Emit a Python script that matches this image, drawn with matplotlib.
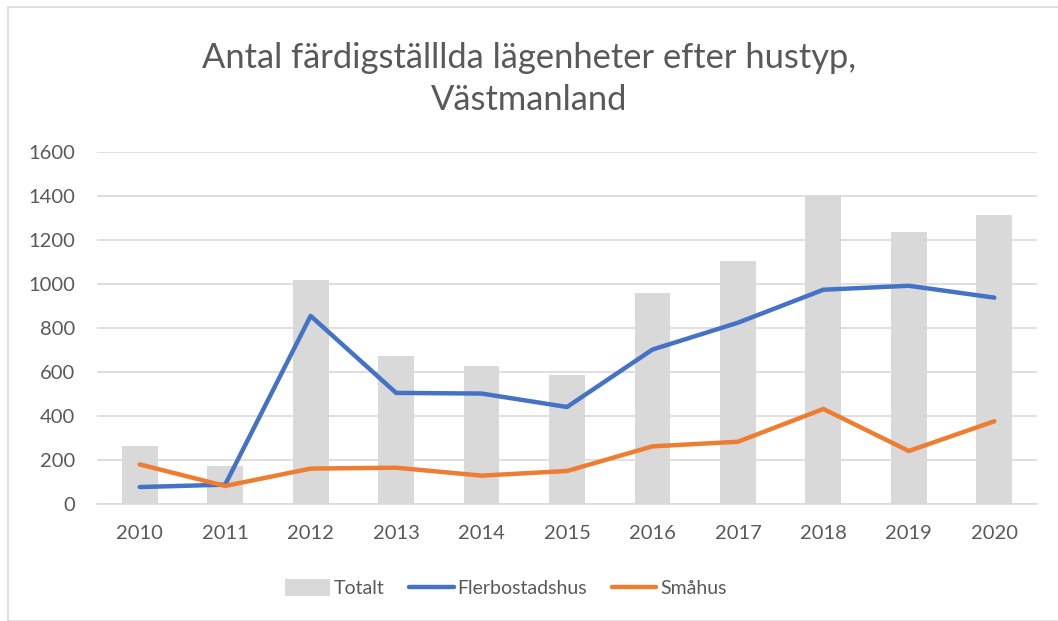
import matplotlib
matplotlib.use("Agg")
import matplotlib.pyplot as plt
from matplotlib.patches import Rectangle
from matplotlib.lines import Line2D
from matplotlib.patches import Patch
import numpy as np

years = ["2010", "2011", "2012", "2013", "2014", "2015", "2016", "2017", "2018", "2019", "2020"]
totalt = [262, 171, 1017, 671, 629, 585, 961, 1106, 1406, 1236, 1315]
flerbostadshus = [77, 88, 855, 505, 502, 441, 702, 824, 974, 992, 938]
smahus = [180, 82, 161, 165, 129, 150, 262, 283, 432, 241, 376]
yticks = [0, 200, 400, 600, 800, 1000, 1200, 1400, 1600]

title = "Antal färdigställlda lägenheter efter hustyp,\nVästmanland"

plt.rcParams['font.family'] = ['Lato', 'DejaVu Sans']
W, H = 1058, 621
fig = plt.figure(figsize=(W / 100, H / 100), dpi=100)
text_color = "#595959"

# outer chart border
fig.patches.append(Rectangle((8 / W, 0), 1.2, (H - 7) / H, transform=fig.transFigure,
                             fill=False, edgecolor="#d9d9d9", lw=1.2))

ax = fig.add_axes([97 / W, (H - 504) / H, (1037 - 97) / W, (504 - 152) / H])
x = np.arange(len(years))
ax.bar(x, totalt, width=0.42, color="#D9D9D9", zorder=2)
ax.plot(x, flerbostadshus, color="#4472C4", lw=3.2, solid_capstyle="round",
        solid_joinstyle="round", zorder=3)
ax.plot(x, smahus, color="#ED7D31", lw=3.2, solid_capstyle="round",
        solid_joinstyle="round", zorder=3)

ax.set_xlim(-0.5, len(years) - 0.5)
ax.set_ylim(0, 1600)
ax.set_yticks(yticks)
ax.set_yticklabels([str(v) for v in yticks])
ax.set_xticks(x)
ax.set_xticklabels(years)
ax.grid(axis="y", color="#d9d9d9", lw=1.2, zorder=0)
ax.set_axisbelow(True)
for s in ["top", "right", "left"]:
    ax.spines[s].set_visible(False)
ax.spines["bottom"].set_color("#d9d9d9")
ax.spines["bottom"].set_linewidth(1.2)
ax.tick_params(axis="both", length=0, labelsize=14.5, labelcolor=text_color)
ax.tick_params(axis="y", pad=16)
ax.tick_params(axis="x", pad=15)

fig.text(0.5, (H - 79) / H, title, ha="center", va="center", fontsize=24.8,
         color=text_color, linespacing=1.35)

handles = [Patch(facecolor="#D9D9D9", edgecolor="none"),
           Line2D([0], [0], color="#4472C4", lw=3.2, solid_capstyle="round"),
           Line2D([0], [0], color="#ED7D31", lw=3.2, solid_capstyle="round")]
labels = ["Totalt", "Flerbostadshus", "Småhus"]
fig.legend(handles, labels, loc="center", bbox_to_anchor=(506 / W, (H - 588) / H),
           ncol=3, frameon=False, fontsize=14, labelcolor=text_color,
           handlelength=2.3, handletextpad=0.2, columnspacing=1.25, handleheight=1.0)

fig.savefig("out.png", dpi=100)
